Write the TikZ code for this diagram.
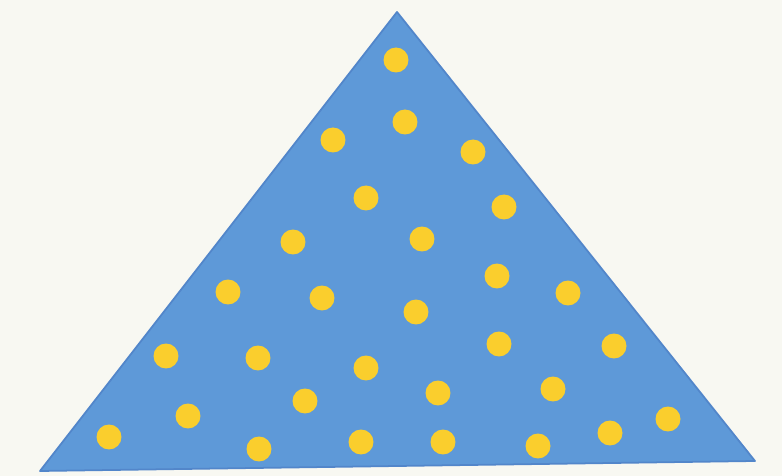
\documentclass[tikz,border=0pt]{standalone}
\usetikzlibrary{calc}
\usepackage{tkz-euclide}

\definecolor{paper}{RGB}{248,248,242}
\definecolor{skyblue}{RGB}{94,153,216}
\definecolor{edgeblue}{RGB}{82,134,202}
\definecolor{dotyellow}{RGB}{250,206,45}

\begin{document}
\begin{tikzpicture}[x=0.02cm,y=-0.02cm]
\tikzset{dot/.style={fill=dotyellow}}

\fill[paper] (0,0) rectangle (782,476);

\tkzDefPoints{397/12/T,40/471/L,755/461/R}

\tkzDrawPolygon[line width=1pt,draw=edgeblue,fill=skyblue](L,R,T)

% yellow dots, pixel positions
\foreach \x/\y in {396/60,405/122,333/140,473/152,
  366/198,504/207,293/242,422/239,
  497/276,228/292,322/298,416/312,568/293,
  166/356,258/358,499/344,614/346,366/368,
  305/401,438/393,553/389,188/416,668/419,
  109/437,259/449,361/442,443/442,538/446,610/433}
  \fill[dot] (\x,\y) circle (0.25cm);

\end{tikzpicture}
\end{document}
